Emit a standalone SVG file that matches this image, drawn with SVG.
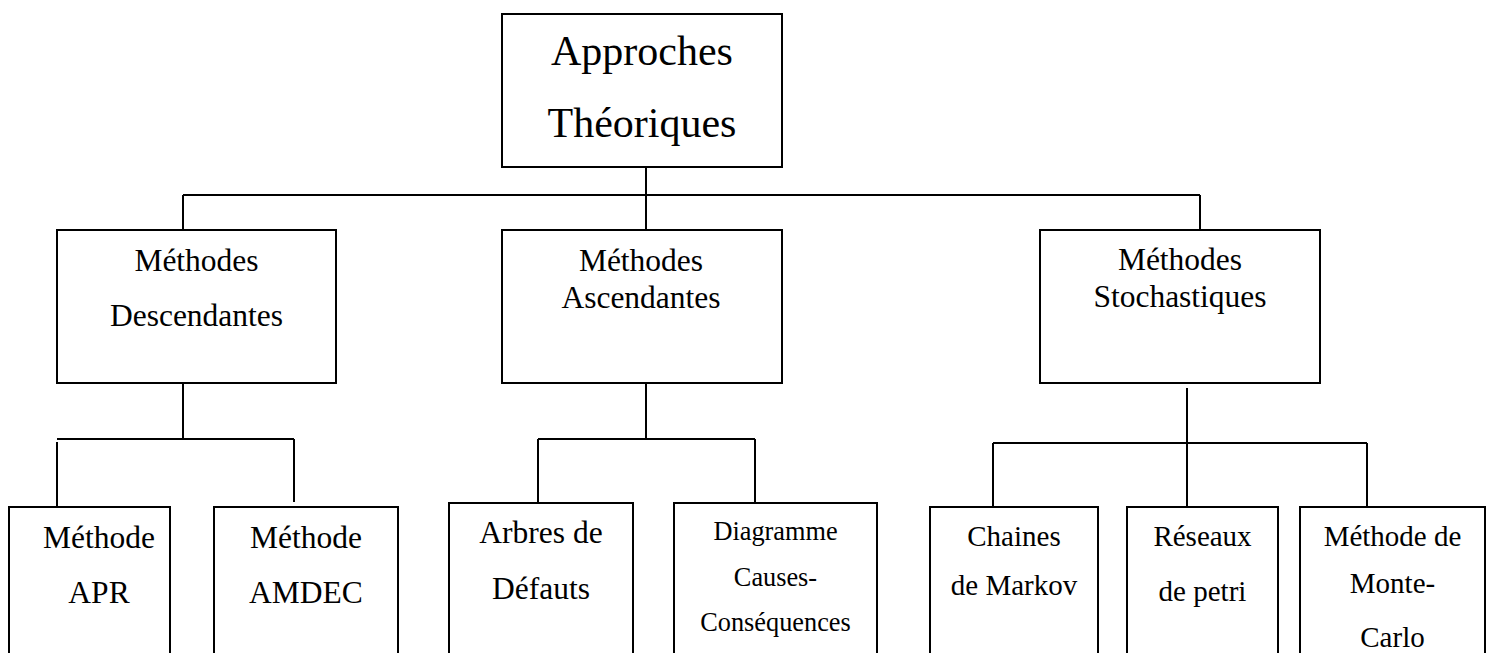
<svg xmlns="http://www.w3.org/2000/svg" width="1490" height="653" viewBox="0 0 1490 653">
  <style>
    .box { fill: #ffffff; stroke: #000000; stroke-width: 2; }
    .wire { fill: none; stroke: #000000; stroke-width: 2; }
    text { font-family: "Liberation Serif", "Times New Roman", serif; fill: #000000; text-anchor: middle; }
    .t0 { font-size: 42px; }
    .t1 { font-size: 31.5px; }
    .t2 { font-size: 26.3px; }
    .t3 { font-size: 29px; }
  </style>
  <rect width="1490" height="653" fill="#ffffff"/>

  <!-- connectors -->
  <g id="connectors" class="wire">
    <path d="M646 167 V195 M183 195 H1200 M183 195 V230 M646 195 V230 M1200 195 V230"/>
    <path d="M183 383 V439 M57 439 H294 M57 442 V507 M294 439 V502"/>
    <path d="M646 383 V439 M538 439 H755 M538 439 V503 M755 439 V503"/>
    <path d="M1187 388 V507 M993 443 H1367 M993 443 V507 M1367 443 V507"/>
  </g>

  <!-- root -->
  <g id="approches">
    <rect class="box" x="502" y="14" width="280" height="153"/>
    <text class="t0" x="642" y="65">Approches</text>
    <text class="t0" x="642" y="137">Théoriques</text>
  </g>

  <!-- second level -->
  <g id="descendantes">
    <rect class="box" x="57" y="230" width="279" height="153"/>
    <text class="t1" x="196.5" y="271">Méthodes</text>
    <text class="t1" x="196.5" y="326">Descendantes</text>
  </g>
  <g id="ascendantes">
    <rect class="box" x="502" y="230" width="280" height="153"/>
    <text class="t1" x="641" y="271">Méthodes</text>
    <text class="t1" x="641" y="308">Ascendantes</text>
  </g>
  <g id="stochastiques">
    <rect class="box" x="1040" y="230" width="280" height="153"/>
    <text class="t1" x="1180" y="270">Méthodes</text>
    <text class="t1" x="1180" y="307">Stochastiques</text>
  </g>

  <!-- leaves -->
  <g id="apr">
    <rect class="box" x="9" y="507" width="161" height="160"/>
    <text class="t1" x="99" y="548">Méthode</text>
    <text class="t1" x="99" y="603">APR</text>
  </g>
  <g id="amdec">
    <rect class="box" x="214" y="507" width="184" height="160"/>
    <text class="t1" x="306" y="548">Méthode</text>
    <text class="t1" x="306" y="603">AMDEC</text>
  </g>
  <g id="arbres">
    <rect class="box" x="449" y="503" width="184" height="164"/>
    <text class="t1" x="541" y="543">Arbres de</text>
    <text class="t1" x="541" y="599">Défauts</text>
  </g>
  <g id="causes">
    <rect class="box" x="674" y="503" width="203" height="164"/>
    <text class="t2" x="775.5" y="540">Diagramme</text>
    <text class="t2" x="775.5" y="586">Causes-</text>
    <text class="t2" x="775.5" y="631">Conséquences</text>
  </g>
  <g id="markov">
    <rect class="box" x="930" y="507" width="168" height="160"/>
    <text class="t3" x="1014" y="546">Chaines</text>
    <text class="t3" x="1014" y="595">de Markov</text>
  </g>
  <g id="petri">
    <rect class="box" x="1127" y="507" width="151" height="160"/>
    <text class="t3" x="1202.5" y="546">Réseaux</text>
    <text class="t3" x="1202.5" y="601">de petri</text>
  </g>
  <g id="montecarlo">
    <rect class="box" x="1300" y="507" width="185" height="160"/>
    <text class="t3" x="1392.5" y="546">Méthode de</text>
    <text class="t3" x="1392.5" y="593">Monte-</text>
    <text class="t3" x="1392.5" y="647">Carlo</text>
  </g>
</svg>
